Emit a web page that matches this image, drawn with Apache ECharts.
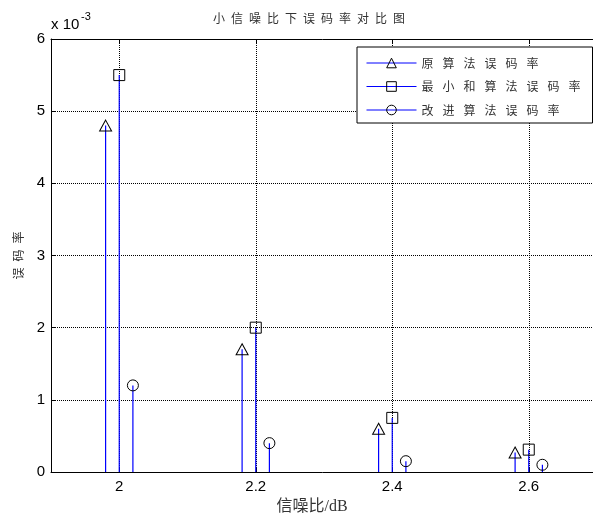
<!DOCTYPE html>
<html>
<head>
<meta charset="utf-8">
<script src="https://cdn.jsdelivr.net/npm/echarts@6/dist/echarts.min.js"></script>
<style>
  html, body { margin: 0; padding: 0; background: #fff; }
  #chart { width: 593px; height: 514px; }
</style>
</head>
<body>
<div id="chart"></div>
<script>
// SNR positions (dB) of the stems and the bit error rates of each algorithm
const snrTicks = [2.0, 2.2, 2.4, 2.6];
const snrOriginal = [1.98, 2.18, 2.38, 2.58];
const berOriginal = [4.8e-3, 1.7e-3, 0.6e-3, 0.27e-3];
const snrMinSum = [2.0, 2.2, 2.4, 2.6];
const berMinSum = [5.5e-3, 2.0e-3, 0.75e-3, 0.31e-3];
const snrImproved = [2.02, 2.22, 2.42, 2.62];
const berImproved = [1.2e-3, 0.4e-3, 0.15e-3, 0.1e-3];
const seriesNames = ['原算法误码率', '最小和算法误码率', '改进算法误码率'];
const seriesSymbols = ['triangle', 'rect', 'circle'];
const titleText = '小信噪比下误码率对比图';
const xName = '信噪比/dB';
const yName = '误码率';

const CJK = "'Noto Sans CJK SC', sans-serif";
const LATIN = "'Liberation Sans', Arial, sans-serif";
const spaced = (s, gap) => s.split('').join(gap);

const groups = [
  [snrOriginal, berOriginal],
  [snrMinSum, berMinSum],
  [snrImproved, berImproved]
];
const symbolSizes = [[12, 11], [11, 11], [11, 11]];

const series = [];
// markers (hollow, black outline)
groups.forEach(([xs, ys], i) => {
  series.push({
    name: seriesNames[i],
    type: 'line',
    data: xs.map((x, k) => [x, ys[k]]),
    symbol: seriesSymbols[i],
    symbolSize: symbolSizes[i],
    showSymbol: true,
    showAllSymbol: true,
    lineStyle: { width: 0, color: '#0000ff', opacity: 0 },
    itemStyle: { color: 'rgba(0,0,0,0)', borderColor: '#000', borderWidth: 1 },
    emphasis: { disabled: true },
    z: 5
  });
});
// stems from the baseline up to each marker
groups.forEach(([xs, ys], i) => {
  series.push({
    type: 'custom',
    name: 'stem' + i,
    data: xs.map((x, k) => [x, ys[k]]),
    encode: { x: 0, y: 1 },
    silent: true,
    z: 3,
    renderItem: (params, api) => {
      const x = api.value(0), y = api.value(1);
      const p0 = api.coord([x, 0]);
      const p1 = api.coord([x, y]);
      return {
        type: 'line',
        shape: { x1: p0[0], y1: p0[1], x2: p1[0], y2: p1[1] },
        style: { stroke: '#0000ff', lineWidth: 1.2 }
      };
    }
  });
});

const chart = echarts.init(document.getElementById('chart'), null, { renderer: 'canvas' });
chart.setOption({
  animation: false,
  backgroundColor: '#fff',
  title: {
    text: spaced(titleText, '\u2002'),
    left: 213, top: 12, padding: 0,
    textStyle: { fontFamily: CJK, fontSize: 12, fontWeight: 'normal', color: '#333' }
  },
  grid: { left: 51, top: 39, width: 546, height: 433, containLabel: false, outerBoundsMode: 'none' },
  legend: {
    data: seriesNames,
    orient: 'vertical',
    left: 357, top: 47,
    padding: [10, 12, 7, 9],
    itemWidth: 50, itemHeight: 12, itemGap: 11.5,
    backgroundColor: '#fff',
    borderColor: '#000', borderWidth: 1, borderRadius: 0,
    selectedMode: false,
    formatter: name => spaced(name, '\u2002\u2005'),
    textStyle: { fontFamily: CJK, fontSize: 12, color: '#333' },
    lineStyle: { color: '#0000ff', width: 1, opacity: 1 },
    itemStyle: { color: 'rgba(0,0,0,0)', borderColor: '#000', borderWidth: 1 }
  },
  xAxis: [{
    type: 'value', min: 1.9, max: 2.7, position: 'bottom',
    name: xName, nameLocation: 'middle', nameGap: 24,
    nameTextStyle: { fontFamily: "'Liberation Serif', 'Noto Sans CJK SC', serif", fontSize: 16, color: '#333', padding: [0, 24, 0, 0] },
    axisLine: { onZero: false, lineStyle: { color: '#000', width: 1 } },
    axisTick: { inside: true, length: 5, customValues: snrTicks, lineStyle: { color: '#000' } },
    axisLabel: { customValues: snrTicks, formatter: v => String(Math.round(v * 10) / 10), color: '#000', fontSize: 15, fontFamily: LATIN, margin: 7 },
    splitLine: { show: true, lineStyle: { color: '#000', width: 1, type: [1, 1] } }
  }, {
    type: 'value', min: 1.9, max: 2.7, position: 'top',
    axisLine: { onZero: false, lineStyle: { color: '#000', width: 1 } },
    axisTick: { inside: true, length: 5, customValues: snrTicks, lineStyle: { color: '#000' } },
    axisLabel: { show: false },
    splitLine: { show: false }
  }],
  yAxis: [{
    type: 'value', min: 0, max: 0.006, interval: 0.001,
    name: spaced(yName, '\u2002'), nameLocation: 'middle', nameGap: 27,
    nameTextStyle: { fontFamily: CJK, fontSize: 12, color: '#333' },
    axisLine: { show: true, lineStyle: { color: '#000', width: 1 } },
    axisTick: { show: true, inside: true, length: 5, lineStyle: { color: '#000' } },
    axisLabel: { formatter: v => String(Math.round(v * 1000)), color: '#000', fontSize: 15, fontFamily: LATIN, margin: 6 },
    splitLine: { show: true, lineStyle: { color: '#000', width: 1, type: [1, 1] } }
  }],
  graphic: [
    { type: 'text', left: 51, top: 17, style: { text: 'x 10', fontFamily: LATIN, fontSize: 15, fill: '#000' } },
    { type: 'text', left: 81, top: 11, style: { text: '-3', fontFamily: LATIN, fontSize: 11, fill: '#000' } }
  ],
  series: series
});
</script>
</body>
</html>
